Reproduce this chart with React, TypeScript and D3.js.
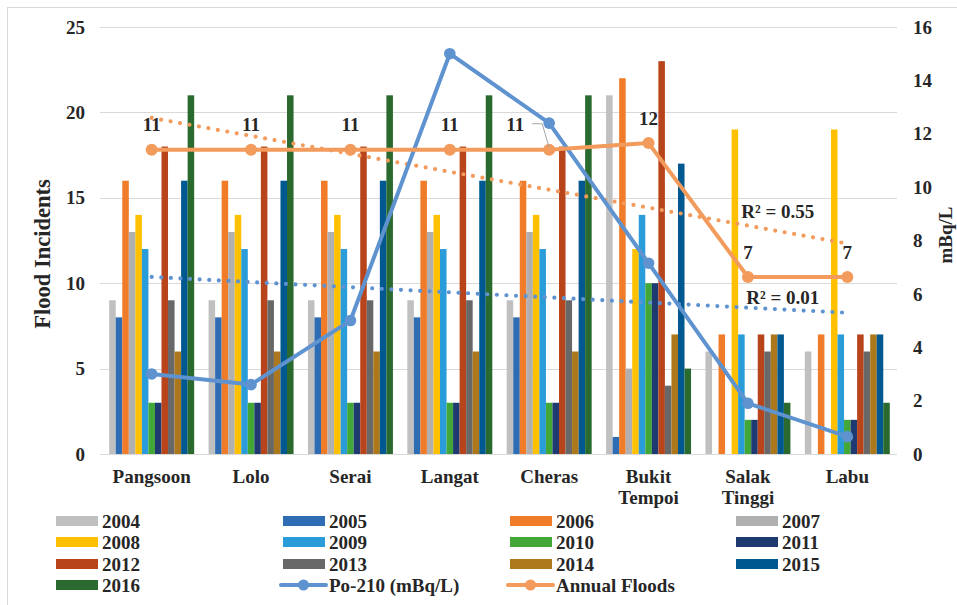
import React from "react";
import * as d3 from "d3";

const categories = ["Pangsoon", "Lolo", "Serai", "Langat", "Cheras", "Bukit Tempoi", "Salak Tinggi", "Labu"];
const years = ["2004", "2005", "2006", "2007", "2008", "2009", "2010", "2011", "2012", "2013", "2014", "2015", "2016"];

const v2004 = [9, 9, 9, 9, 9, 21, 6, 6];
const v2005 = [8, 8, 8, 8, 8, 1, 0, 0];
const v2006 = [16, 16, 16, 16, 16, 22, 7, 7];
const v2007 = [13, 13, 13, 13, 13, 5, 0, 0];
const v2008 = [14, 14, 14, 14, 14, 12, 19, 19];
const v2009 = [12, 12, 12, 12, 12, 14, 7, 7];
const v2010 = [3, 3, 3, 3, 3, 10, 2, 2];
const v2011 = [3, 3, 3, 3, 3, 10, 2, 2];
const v2012 = [18, 18, 18, 18, 18, 23, 7, 7];
const v2013 = [9, 9, 9, 9, 9, 4, 6, 6];
const v2014 = [6, 6, 6, 6, 6, 7, 7, 7];
const v2015 = [16, 16, 16, 16, 16, 17, 7, 7];
const v2016 = [21, 21, 21, 21, 21, 5, 3, 3];
const yearValues = [v2004, v2005, v2006, v2007, v2008, v2009, v2010, v2011, v2012, v2013, v2014, v2015, v2016];

const yearColors = [
  "#C0C0C0", "#2E6DB4", "#F07C2A", "#B0B0B0", "#FFC000", "#2B9CDA", "#43A737",
  "#1F3A70", "#B8441C", "#686868", "#AD781B", "#005891", "#2B6A2F",
];

const po210 = [3.0, 2.6, 5.0, 15.0, 12.4, 7.15, 1.9, 0.65];
const annualFloods = [11.4, 11.4, 11.4, 11.4, 11.4, 11.65, 6.63, 6.63];

const leftTicks = [0, 5, 10, 15, 20, 25];
const rightTicks = [0, 2, 4, 6, 8, 10, 12, 14, 16];

const PO_COLOR = "#5F93D0";
const FL_COLOR = "#F29B5C";
const TEXT = "#262626";
const GRID = "#D9D9D9";
const FONT = "'Liberation Serif', 'Times New Roman', serif";

function linReg(vals: number[]) {
  const n = vals.length;
  const xs = vals.map((_, i) => i + 1);
  const mx = d3.mean(xs)!;
  const my = d3.mean(vals)!;
  let sxy = 0, sxx = 0, syy = 0;
  xs.forEach((xv, i) => {
    sxy += (xv - mx) * (vals[i] - my);
    sxx += (xv - mx) ** 2;
    syy += (vals[i] - my) ** 2;
  });
  const slope = sxy / sxx;
  const intercept = my - slope * mx;
  const r2 = (sxy * sxy) / (sxx * syy);
  return { f: (xv: number) => intercept + slope * xv, r2, n };
}

export default function App() {
  const W = 957, H = 605;
  const plotLeft = 100, plotRight = 897, yBottom = 454, yTop = 27;

  const x = d3.scaleBand<string>().domain(categories).range([102, 897]);
  const bw = x.bandwidth();
  const pad = 7.2;
  const xi = d3.scaleBand<string>().domain(years).range([pad, bw - pad]);
  const yL = d3.scaleLinear().domain([0, 25]).range([yBottom, yTop]);
  const yR = d3.scaleLinear().domain([0, 16]).range([yBottom, yTop]);
  const cx = (c: string) => (x(c) as number) + bw / 2;

  const line = d3.line<[number, number]>();
  const poPts: [number, number][] = categories.map((c, i) => [cx(c), yR(po210[i])]);
  const flPts: [number, number][] = categories.map((c, i) => [cx(c), yR(annualFloods[i])]);

  const flReg = linReg(annualFloods);
  const poReg = linReg(po210);
  const x1 = cx(categories[0]);
  const xn = cx(categories[categories.length - 1]);
  const flTrend: [number, number][] = [[x1, yR(flReg.f(1))], [xn, yR(flReg.f(flReg.n))]];
  const poTrend: [number, number][] = [[x1, yR(poReg.f(1))], [xn, yR(poReg.f(poReg.n))]];
  const fmtR2 = d3.format(".2f");
  const fmtLbl = d3.format(".0f");

  const legendCols = [56, 283, 510, 736];
  const legendRows = [521, 542, 564, 585];
  const legendItems = [
    ...years.map((y, i) => ({ label: y, kind: "bar", color: yearColors[i] })),
    { label: "Po-210 (mBq/L)", kind: "line", color: PO_COLOR },
    { label: "Annual Floods", kind: "line", color: FL_COLOR },
  ];

  return (
    <svg
      width={W}
      height={H}
      style={{ position: "absolute", left: 0, top: 0, background: "#fff" }}
      fontFamily={FONT}
      fontWeight="bold"
    >
      <rect x={0} y={0} width={W} height={H} fill="#fff" />
      <rect x={7.5} y={7.5} width={W + 10} height={H + 10} fill="none" stroke={GRID} strokeWidth={1} />

      {/* gridlines */}
      {leftTicks.map((t) => (
        <line key={"g" + t} x1={plotLeft} x2={plotRight} y1={Math.round(yL(t)) + 0.5} y2={Math.round(yL(t)) + 0.5} stroke={GRID} strokeWidth={1} />
      ))}

      {/* bars */}
      {categories.map((c, ci) => (
        <g key={c} transform={`translate(${x(c)},0)`}>
          {years.map((yr, yi) => {
            const v = yearValues[yi][ci];
            if (!v) return null;
            return (
              <rect
                key={yr}
                x={xi(yr)}
                y={yL(v)}
                width={xi.bandwidth()}
                height={yL(0) - yL(v)}
                fill={yearColors[yi]}
              />
            );
          })}
        </g>
      ))}

      {/* left axis labels */}
      {leftTicks.map((t) => (
        <text key={"l" + t} x={85} y={yL(t)} dy="0.35em" textAnchor="end" fontSize={19} fill={TEXT}>
          {t}
        </text>
      ))}
      {/* right axis labels */}
      {rightTicks.map((t) => (
        <text key={"r" + t} x={913} y={yR(t)} dy="0.35em" textAnchor="start" fontSize={19} fill={TEXT}>
          {t}
        </text>
      ))}

      {/* axis titles */}
      <text transform="translate(50,254) rotate(-90)" textAnchor="middle" fontSize={22.5} fill={TEXT}>
        Flood Incidents
      </text>
      <text transform="translate(952,235) rotate(-90)" textAnchor="middle" fontSize={19} fill={TEXT}>
        mBq/L
      </text>

      {/* category labels */}
      {categories.map((c) => {
        const parts = c.split(" ");
        return (
          <text key={"c" + c} x={cx(c)} y={483} textAnchor="middle" fontSize={19} fill={TEXT}>
            {parts.map((p, i) => (
              <tspan key={i} x={cx(c)} dy={i === 0 ? 0 : 21}>
                {p}
              </tspan>
            ))}
          </text>
        );
      })}

      {/* trendlines */}
      <path d={line(flTrend) || ""} fill="none" stroke={FL_COLOR} strokeWidth={4.2} strokeDasharray="0 9.6" strokeLinecap="round" />
      <path d={line(poTrend) || ""} fill="none" stroke={PO_COLOR} strokeWidth={4.2} strokeDasharray="0 9.6" strokeLinecap="round" />

      {/* Po-210 line */}
      <path d={line(poPts) || ""} fill="none" stroke={PO_COLOR} strokeWidth={4} strokeLinejoin="round" />
      {poPts.map((p, i) => (
        <circle key={"pm" + i} cx={p[0]} cy={p[1]} r={5.8} fill={PO_COLOR} />
      ))}

      {/* Annual floods line */}
      <path d={line(flPts) || ""} fill="none" stroke={FL_COLOR} strokeWidth={4} strokeLinejoin="round" />
      {flPts.map((p, i) => (
        <circle key={"fm" + i} cx={p[0]} cy={p[1]} r={6} fill={FL_COLOR} />
      ))}

      {/* flood data labels */}
      {flPts.map((p, i) => {
        const moved = categories[i] === "Cheras";
        const lx = moved ? p[0] - 34 : p[0];
        const ly = p[1] - 25;
        return (
          <g key={"fl" + i}>
            {moved && (
              <polyline
                points={`${p[0] - 17},${ly - 1} ${p[0] - 7},${ly - 1} ${p[0]},${p[1] - 2}`}
                fill="none"
                stroke="#A6A6A6"
                strokeWidth={1}
              />
            )}
            <text x={lx} y={ly} dy="0.35em" textAnchor="middle" fontSize={19} fill={TEXT}>
              {fmtLbl(annualFloods[i])}
            </text>
          </g>
        );
      })}

      {/* R² labels */}
      <text x={flTrend[1][0] - 106} y={flTrend[1][1] - 32} dy="0.35em" fontSize={19} fill={TEXT}>
        {`R² = ${fmtR2(flReg.r2)}`}
      </text>
      <text x={poTrend[1][0] - 101} y={poTrend[1][1] - 15} dy="0.35em" fontSize={19} fill={TEXT}>
        {`R² = ${fmtR2(Math.max(poReg.r2, 0.01))}`}
      </text>

      {/* legend */}
      {legendItems.map((it, i) => {
        const lx = legendCols[i % 4];
        const ly = legendRows[Math.floor(i / 4)];
        return (
          <g key={"lg" + i}>
            {it.kind === "bar" ? (
              <rect x={lx} y={ly - 5} width={42} height={10} fill={it.color} />
            ) : (
              <g>
                <line x1={lx - 2} x2={lx + 43} y1={ly} y2={ly} stroke={it.color} strokeWidth={4} strokeLinecap="round" />
                <circle cx={lx + 20.5} cy={ly} r={5.5} fill={it.color} />
              </g>
            )}
            <text x={lx + 46} y={ly} dy="0.35em" fontSize={19} fill={TEXT}>
              {it.label}
            </text>
          </g>
        );
      })}
    </svg>
  );
}
